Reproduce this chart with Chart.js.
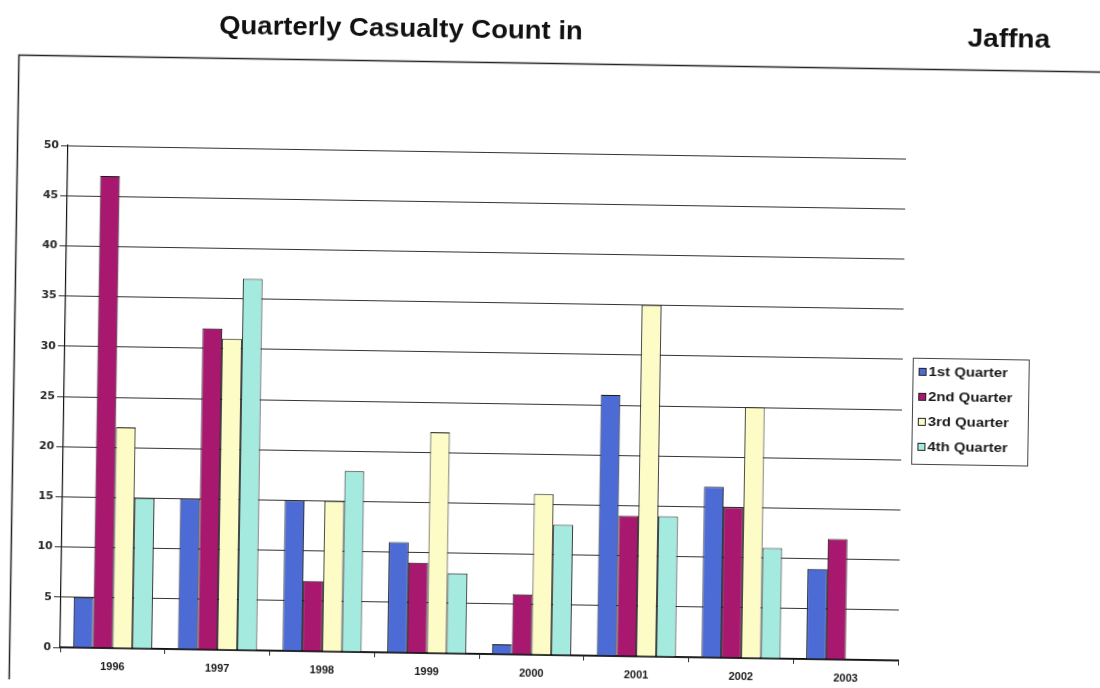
<!DOCTYPE html>
<html>
<head>
<meta charset="utf-8">
<script src="https://cdn.jsdelivr.net/npm/chart.js@4.4.1/dist/chart.umd.min.js"></script>
<style>
  html, body { margin: 0; padding: 0; background: #ffffff; overflow: hidden; }
  #wrap { width: 1100px; height: 688px; }
  #chart { display: block; transform: rotate(0.9deg); transform-origin: 550px 344px; }
</style>
</head>
<body>
<div id="wrap"><canvas id="chart" width="1100" height="688"></canvas></div>
<script>
// Casualty counts per quarter, Jaffna district
const years = ['1996', '1997', '1998', '1999', '2000', '2001', '2002', '2003'];
const quarter1 = [5, 15, 15, 11, 1, 26, 17, 9];
const quarter2 = [47, 32, 7, 9, 6, 14, 15, 12];
const quarter3 = [22, 31, 15, 22, 16, 35, 25, null];
const quarter4 = [15, 37, 18, 8, 13, 14, 11, null];
const seriesNames = ['1st Quarter', '2nd Quarter', '3rd Quarter', '4th Quarter'];
const seriesColors = ['#4c6bd5', '#a8186f', '#fdfcc6', '#a4eadf'];
const titleLeft = 'Quarterly Casualty Count in';
const titleRight = 'Jaffna';
const yMin = 0, yMax = 50, yStep = 5;

const seriesValues = [quarter1, quarter2, quarter3, quarter4];
const datasets = seriesValues.map((vals, i) => ({
  label: seriesNames[i],
  data: vals,
  backgroundColor: seriesColors[i],
  borderColor: '#1a1a1a',
  borderWidth: 1,
  categoryPercentage: 0.755,
  barPercentage: 1.0
}));

// draws text stretched horizontally around an anchor point
function wideText(ctx, text, x, y, sx, align) {
  ctx.save();
  ctx.translate(x, y);
  ctx.scale(sx, 1);
  ctx.textAlign = align;
  ctx.fillText(text, 0, 0);
  ctx.restore();
}

// Title, outer frame and boxed legend drawn on top of the chart
const decorations = {
  id: 'decorations',
  afterDraw(chart) {
    const ctx = chart.ctx;
    ctx.save();
    // outer frame
    ctx.strokeStyle = '#222';
    ctx.lineWidth = 1.5;
    ctx.strokeRect(14.5, 63.5, 1100, 640);
    // title
    ctx.fillStyle = '#111';
    ctx.font = 'bold 25px "Liberation Sans", Arial, sans-serif';
    ctx.textBaseline = 'alphabetic';
    wideText(ctx, titleLeft, 396, 39, 1.1, 'center');
    wideText(ctx, titleRight, 1004, 40, 1.12, 'center');
    // legend
    const lx = 913, ly = 352, lw = 116, lh = 106;
    ctx.lineWidth = 1;
    ctx.strokeStyle = '#444';
    ctx.strokeRect(lx + 0.5, ly + 0.5, lw, lh);
    ctx.font = 'bold 12px "Liberation Sans", Arial, sans-serif';
    ctx.textBaseline = 'middle';
    chart.data.datasets.forEach((ds, i) => {
      const y = 366 + i * 25;
      ctx.fillStyle = ds.backgroundColor;
      ctx.fillRect(919, y - 4, 8, 8);
      ctx.strokeStyle = '#222';
      ctx.strokeRect(919.5, y - 3.5, 7, 7);
      ctx.fillStyle = '#1a1a1a';
      wideText(ctx, ds.label, 929, y + 1, 1.24, 'left');
    });
    ctx.restore();
  }
};

new Chart(document.getElementById('chart'), {
  type: 'bar',
  data: { labels: years, datasets: datasets },
  options: {
    responsive: false,
    animation: false,
    devicePixelRatio: 1,
    layout: { padding: { left: 0, right: 197, top: 153, bottom: 0 } },
    plugins: {
      legend: { display: false },
      title: { display: false },
      tooltip: { enabled: false }
    },
    scales: {
      x: {
        offset: true,
        grid: {
          display: true,
          offset: true,
          drawOnChartArea: false,
          drawTicks: true,
          tickLength: 5,
          color: '#333'
        },
        border: { display: true, color: '#111', width: 1.2 },
        ticks: {
          color: '#1a1a1a',
          padding: 7,
          font: { family: '"Liberation Sans Narrow", "Liberation Sans", Arial, sans-serif', size: 11, weight: 'bold' }
        },
        afterFit(scale) { scale.height = 33; }
      },
      y: {
        min: yMin,
        max: yMax,
        grid: {
          color: '#333',
          lineWidth: 1,
          drawTicks: true,
          tickLength: 7
        },
        border: { display: true, color: '#111', width: 1.2 },
        ticks: {
          stepSize: yStep,
          color: '#2a2a2a',
          padding: 2,
          font: { family: '"DejaVu Sans", sans-serif', size: 11, weight: 'bold' }
        },
        afterFit(scale) { scale.width = 65; }
      }
    }
  },
  plugins: [decorations]
});
</script>
</body>
</html>
